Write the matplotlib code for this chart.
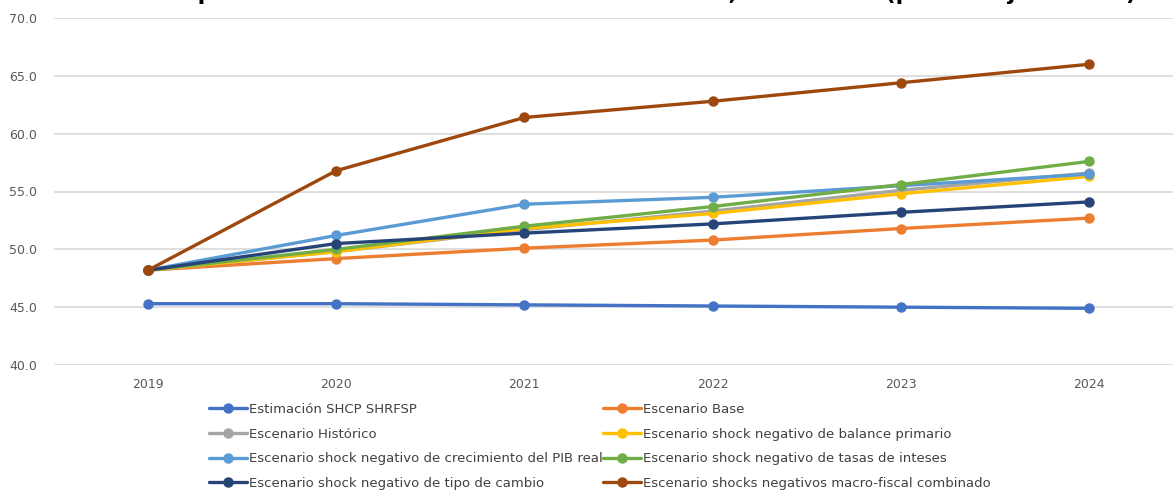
import matplotlib
matplotlib.use("Agg")
import matplotlib.pyplot as plt

# Years on the category axis
years = ["2019", "2020", "2021", "2022", "2023", "2024"]

# SHRFSP paths by scenario (% of GDP)
estimacion_shcp = [45.3, 45.3, 45.2, 45.1, 45.0, 44.9]
escenario_base = [48.2, 49.2, 50.1, 50.8, 51.8, 52.7]
escenario_historico = [48.2, 49.8, 51.7, 53.3, 55.1, 56.6]
shock_balance = [48.2, 49.8, 51.8, 53.1, 54.8, 56.3]
shock_pib = [48.2, 51.2, 53.9, 54.5, 55.5, 56.5]
shock_tasas = [48.2, 50.0, 52.0, 53.7, 55.6, 57.6]
shock_tipo_cambio = [48.2, 50.5, 51.4, 52.2, 53.2, 54.1]
shock_combinado = [48.2, 56.8, 61.4, 62.8, 64.4, 66.0]

series_names = [
    "Estimación SHCP SHRFSP",
    "Escenario Base",
    "Escenario Histórico",
    "Escenario shock negativo de balance primario",
    "Escenario shock negativo de crecimiento del PIB real",
    "Escenario shock negativo de tasas de inteses",
    "Escenario shock negativo de tipo de cambio",
    "Escenario shocks negativos macro-fiscal combinado",
]
series_values = [
    estimacion_shcp, escenario_base, escenario_historico, shock_balance,
    shock_pib, shock_tasas, shock_tipo_cambio, shock_combinado,
]
series_colors = [
    "#4472C4", "#ED7D31", "#A5A5A5", "#FFC000",
    "#5B9BD5", "#70AD47", "#264478", "#9E480E",
]

y_ticks = [40.0, 45.0, 50.0, 55.0, 60.0, 65.0, 70.0]

W, H = 1173, 493
fig = plt.figure(figsize=(W / 100, H / 100), dpi=100)
fig.patch.set_facecolor("white")

# Plot area (pixel geometry converted to figure fractions)
left_px, right_px, top_px, bottom_px = 54, 1183, 18, 365
ax = fig.add_axes([left_px / W, (H - bottom_px) / H,
                   (right_px - left_px) / W, (bottom_px - top_px) / H])

x = list(range(len(years)))
handles = []
for name, vals, col in zip(series_names, series_values, series_colors):
    ln, = ax.plot(x, vals, color=col, lw=2.4, marker="o", ms=6.5,
                  solid_capstyle="round", label=name, zorder=3)
    handles.append(ln)

ax.set_xlim(-0.5, len(years) - 0.5)
ax.set_ylim(40, 70)
ax.set_yticks(y_ticks)
ax.set_yticklabels([f"{v:.1f}" for v in y_ticks])
ax.set_xticks(x)
ax.set_xticklabels(years)
ax.grid(axis="y", color="#D9D9D9", lw=1.2, zorder=0)
ax.set_axisbelow(True)
for s in ax.spines.values():
    s.set_visible(False)
ax.tick_params(axis="both", length=0, colors="#595959", labelsize=9)
ax.tick_params(axis="y", pad=12)
ax.tick_params(axis="x", pad=9)

# Title (sits above the top edge of the canvas)
fig.text(1136 / W, 1.0,
         "Escenarios para el SHRFSP del Sector Público Federal, 2019-2024 (porcentaje del PIB)",
         ha="right", va="baseline", fontsize=16, fontweight="bold", color="black")

# Legend laid out as two columns, row-major order
left_col = [0, 2, 4, 6]
right_col = [1, 3, 5, 7]
leg_kw = dict(frameon=False, fontsize=9.5, handlelength=2.9, handletextpad=0.15,
              labelspacing=0.88, borderpad=0, borderaxespad=0,
              labelcolor="#404040", loc="upper left")
leg1 = fig.legend([handles[i] for i in left_col], [series_names[i] for i in left_col],
                  bbox_to_anchor=(209 / W, 1 - 403 / H), **leg_kw)
leg2 = fig.legend([handles[i] for i in right_col], [series_names[i] for i in right_col],
                  bbox_to_anchor=(603 / W, 1 - 403 / H), **leg_kw)

fig.savefig("out.png", dpi=100)
